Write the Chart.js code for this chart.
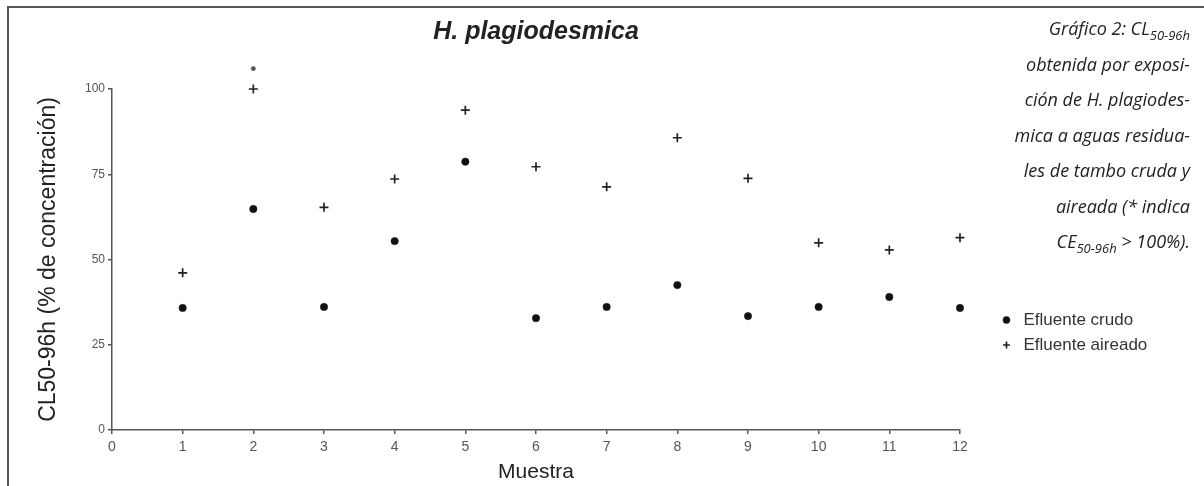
<!DOCTYPE html>
<html lang="es">
<head>
<meta charset="UTF-8">
<title>H. plagiodesmica</title>
<script src="https://cdn.jsdelivr.net/npm/chart.js"></script>
<style>
  body { margin: 0; background: #fff; }
  .hoja { position: relative; width: 1204px; height: 486px; overflow: hidden; }
  .marco {
    position: absolute; left: 7px; top: 6px; right: -10px; bottom: -10px;
    border-left: 2px solid #555; border-top: 2px solid #555;
  }
  .grafico { position: absolute; left: 0; top: 0; width: 1204px; height: 486px; }
  .nota {
    position: absolute; right: 14px; top: 11px; width: 260px;
    text-align: right; font-family: "Open Sans", sans-serif; font-style: italic;
    font-size: 18px; line-height: 35.5px; color: #222;
  }
  .nota sub { font-size: 13px; line-height: 0; vertical-align: -5px; }
</style>
</head>
<body>
<div class="hoja">
  <div class="marco"></div>
  <div class="grafico"><canvas id="grafico"></canvas></div>
  <div class="nota">
    Gráfico 2: CL<sub>50-96h</sub><br>
    obtenida por exposi-<br>
    ción de H. plagiodes-<br>
    mica a aguas residua-<br>
    les de tambo cruda y<br>
    aireada (* indica<br>
    CE<sub>50-96h</sub> &gt; 100%).
  </div>
</div>

<script>
  // valores (% de concentración)
  const muestras = [1, 2, 3, 4, 5, 6, 7, 8, 9, 10, 11, 12];
  const crudo = [35.8, 64.8, 36.1, 55.4, 78.7, 32.8, 36.1, 42.5, 33.4, 36.1, 39.0, 35.8];
  const aireado = [46.1, 100, 65.3, 73.6, 93.8, 77.2, 71.3, 85.7, 73.8, 54.9, 52.8, 56.4];
  // asterisco: CE50-96h > 100%
  const muestrasCE = [2];
  const alturaCE = [106];

  const nombres = ['Efluente crudo', 'Efluente aireado'];
  const titulo = 'H. plagiodesmica';
  const tituloX = 'Muestra';
  const tituloY = 'CL50-96h (% de concentración)';

  const puntos = (xs, ys) => xs.map((x, i) => ({ x: x, y: ys[i] }));

  Chart.defaults.font.family = '"Liberation Sans", Arial, sans-serif';
  Chart.defaults.color = '#555';

  // el asterisco queda por encima de 100, fuera del área del gráfico
  const asterisco = {
    id: 'asterisco',
    afterDatasetsDraw(chart) {
      const { ctx, scales } = chart;
      ctx.save();
      ctx.strokeStyle = '#555';
      ctx.lineWidth = 1.2;
      muestrasCE.forEach((m, i) => {
        const px = scales.x.getPixelForValue(m);
        const py = scales.y.getPixelForValue(alturaCE[i]);
        Chart.helpers.drawPoint(ctx, { pointStyle: 'star', radius: 2.5, borderWidth: 1.2, rotation: 0 }, px, py);
      });
      ctx.restore();
    }
  };

  new Chart(document.getElementById('grafico'), {
    type: 'scatter',
    data: {
      datasets: [
        {
          label: nombres[0],
          data: puntos(muestras, crudo),
          pointStyle: 'circle',
          pointRadius: 3.7,
          backgroundColor: '#111',
          borderColor: '#111',
          borderWidth: 0.5,
          clip: false
        },
        {
          label: nombres[1],
          data: puntos(muestras, aireado),
          pointStyle: 'cross',
          pointRadius: 4.5,
          backgroundColor: '#222',
          borderColor: '#222',
          borderWidth: 1.7,
          clip: false
        }
      ]
    },
    plugins: [asterisco],
    options: {
      responsive: true,
      maintainAspectRatio: false,
      animation: false,
      layout: { padding: { top: 8, left: 31, right: 46.7, bottom: 0 } },
      plugins: {
        tooltip: { enabled: false },
        legend: {
          position: 'right',
          align: 'start',
          title: { display: true, text: ' ', font: { size: 10 }, padding: { top: 0, bottom: 283.5 } },
          labels: {
            usePointStyle: true,
            boxWidth: 17,
            boxHeight: 5,
            padding: 8,
            color: '#333',
            font: { size: 17 }
          }
        }
      },
      scales: {
        x: {
          type: 'linear',
          min: 0,
          max: 12,
          ticks: { stepSize: 1, padding: 4.5, font: { size: 14 }, color: '#555' },
          grid: { drawOnChartArea: false, tickLength: 4, color: '#555', lineWidth: 1.5 },
          border: { color: '#555', width: 1.5 },
          title: { display: true, text: tituloX, color: '#222', font: { size: 21 }, padding: { top: 0, bottom: 1 } }
        },
        y: {
          min: 0,
          max: 100,
          ticks: { stepSize: 25, padding: 3, font: { size: 12 }, color: '#555' },
          grid: { drawOnChartArea: false, tickLength: 4, color: '#555', lineWidth: 1.5 },
          border: { color: '#555', width: 1.5 },
          title: { display: true, text: tituloY, color: '#222', font: { size: 23 }, padding: { top: 4.2, bottom: 0 } },
          afterFit: s => { s.width = 81; }
        },
        x2: {
          type: 'linear',
          position: 'top',
          grid: { display: false, drawTicks: false },
          border: { display: false },
          ticks: { display: false },
          title: {
            display: true, text: titulo, color: '#222',
            font: { size: 25, weight: 'bold', style: 'italic' },
            padding: { top: 9, bottom: 42 }
          }
        },
        y2: {
          type: 'linear',
          position: 'right',
          grid: { display: false, drawTicks: false },
          border: { display: false },
          ticks: { display: false },
          afterFit: s => { s.width = 30; }
        }
      }
    }
  });
</script>
</body>
</html>
